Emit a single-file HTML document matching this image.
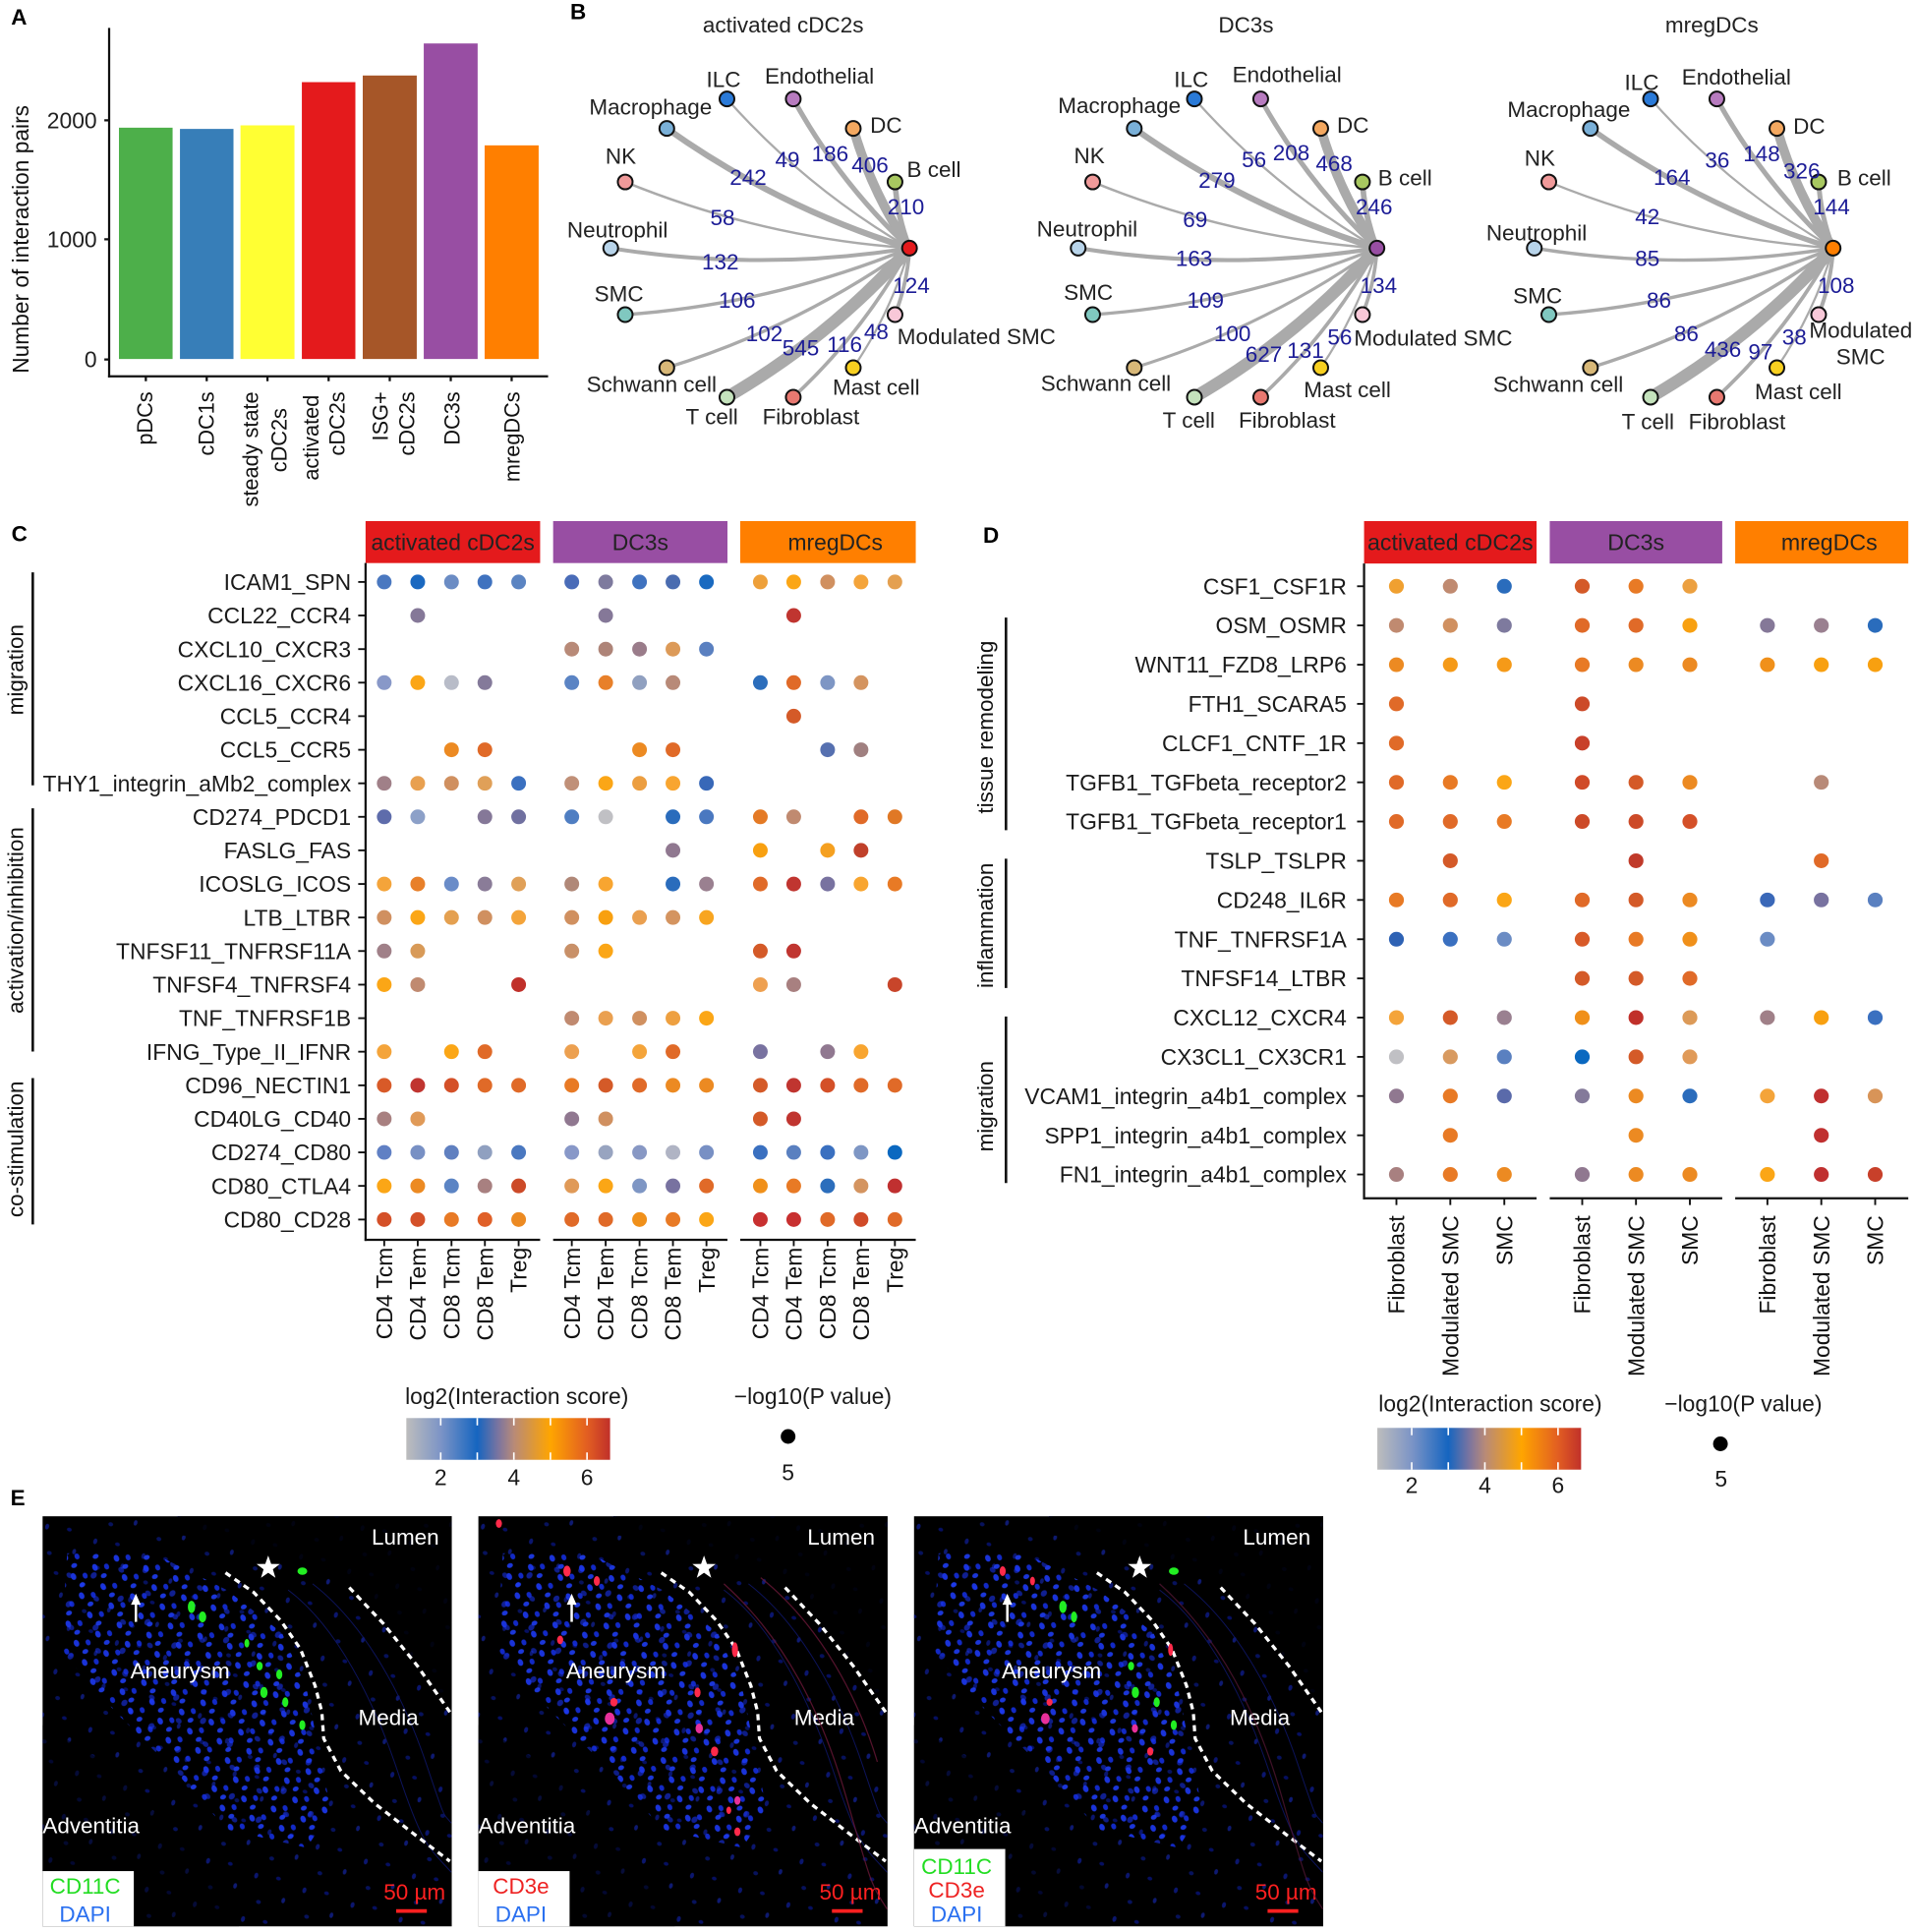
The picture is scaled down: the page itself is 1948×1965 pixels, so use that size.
<!DOCTYPE html>
<html><head><meta charset="utf-8">
<style>
html,body{margin:0;padding:0;background:#fff;}
svg{display:block;}
text{font-family:"Liberation Sans",Arial,Helvetica,sans-serif;}
</style></head><body>
<svg xmlns="http://www.w3.org/2000/svg" width="1948" height="1965" viewBox="0 0 1560 1573.6" preserveAspectRatio="none">
<defs>
<linearGradient id="cb" x1="0" x2="1" y1="0" y2="0">
 <stop offset="0" stop-color="#bdbdbd"/>
 <stop offset="0.169" stop-color="#7c94c6"/>
 <stop offset="0.348" stop-color="#1565c0"/>
 <stop offset="0.45" stop-color="#7a74a0"/>
 <stop offset="0.528" stop-color="#b88a78"/>
 <stop offset="0.707" stop-color="#ffa500"/>
 <stop offset="0.887" stop-color="#e25e22"/>
 <stop offset="1" stop-color="#c0302a"/>
</linearGradient>
<pattern id="nA" width="41" height="37" patternUnits="userSpaceOnUse" patternTransform="rotate(17)">
 <ellipse cx="6" cy="7" rx="1.6" ry="2.4" fill="#1428c8"/>
 <ellipse cx="24" cy="4" rx="2" ry="1.5" fill="#0a1cb0"/>
 <ellipse cx="33" cy="20" rx="1.5" ry="2.3" fill="#1a30d0"/>
 <ellipse cx="14" cy="27" rx="2" ry="1.6" fill="#0c20a8"/>
</pattern>
<pattern id="nB" width="19" height="17" patternUnits="userSpaceOnUse" patternTransform="rotate(-23)">
 <ellipse cx="4" cy="4" rx="2.2" ry="2.9" fill="#1e3cff"/>
 <ellipse cx="13" cy="7" rx="2" ry="2.5" fill="#1530e8"/>
 <ellipse cx="8" cy="13" rx="2.5" ry="1.9" fill="#2040ff"/>
</pattern>
<pattern id="nC" width="29" height="31" patternUnits="userSpaceOnUse" patternTransform="rotate(41)">
 <ellipse cx="5" cy="9" rx="2.3" ry="2.8" fill="#1a34f0"/>
 <ellipse cx="19" cy="22" rx="2.6" ry="2" fill="#1830e0"/>
</pattern>
<clipPath id="anClip"><polygon points="20,30 90,30 150,60 195,95 215,140 225,190 235,240 215,270 150,255 110,210 60,160 15,110"/></clipPath>
<g id="micro">
 <rect x="0" y="0" width="333.3" height="334" fill="#000"/>
 <rect x="0" y="0" width="333.3" height="334" fill="url(#nA)" opacity="0.55"/>
 <rect x="0" y="0" width="333.3" height="334" fill="url(#nB)" clip-path="url(#anClip)" opacity="0.85"/>
 <rect x="0" y="0" width="333.3" height="334" fill="url(#nC)" clip-path="url(#anClip)" opacity="0.6"/>
 <polygon points="110,0 333.3,0 333.3,160 305,122 278,87 250,58 200,35 150,22 110,15" fill="#000" opacity="0.85"/>
 <polygon points="0,170 50,200 100,250 140,300 160,334 0,334" fill="#000" opacity="0.5"/>
 <g fill="none" stroke="#101870" stroke-width="0.8" opacity="0.8">
  <path d="M200,60 C240,90 270,150 290,210 S315,270 333,290"/>
  <path d="M220,55 C265,90 295,150 312,200 S325,240 333,250"/>
 </g>
 <polyline points="149,46 172,62 194,85 210,108 222,138 227.5,159.5 229,181 243,207.5 270.6,234 305.4,261 331.8,281" fill="none" stroke="#fff" stroke-width="2.6" stroke-dasharray="5 4"/>
 <polyline points="249.8,58 277.6,87.4 305.4,122 331.8,159.5" fill="none" stroke="#fff" stroke-width="2.6" stroke-dasharray="5 4"/>
 <polygon points="183.8,32 186.2,38.8 193.3,38.9 187.6,43.2 189.7,50.1 183.8,46 177.9,50.1 180,43.2 174.3,38.9 181.4,38.8" fill="#fff"/>
 <line x1="76" y1="86" x2="76" y2="70" stroke="#fff" stroke-width="2"/>
 <polygon points="72,72 76,63 80,72" fill="#fff"/>
 <text x="323" y="23" text-anchor="end" font-size="18" fill="#fff">Lumen</text>
 <text x="112" y="132" text-anchor="middle" font-size="18" fill="#fff">Aneurysm</text>
 <text x="281.7" y="170" text-anchor="middle" font-size="18" fill="#fff">Media</text>
 <text x="0" y="258" font-size="18" fill="#fff">Adventitia</text>
 <text x="303" y="312" text-anchor="middle" font-size="18" fill="#ff2020">50 µm</text>
 <rect x="288" y="320" width="25" height="3" fill="#ff2020"/>
</g>
</defs>

<!-- ============ PANEL A ============ -->
<text x="9" y="20" font-size="18" font-weight="bold">A</text>
<text transform="translate(23.4,194.9) rotate(-90)" text-anchor="middle" font-size="18.2" fill="#111">Number of interaction pairs</text>
<g font-size="18.3" fill="#222" text-anchor="end">
 <text x="79" y="104.5">2000</text>
 <text x="79" y="201.4">1000</text>
 <text x="79" y="299.3">0</text>
</g>
<g stroke="#fff" stroke-width="0.8">
 <rect x="96.5" y="103.6" width="44.5" height="189.2" fill="#4daf4a"/>
 <rect x="146.2" y="104.6" width="44.4" height="188.2" fill="#377eb8"/>
 <rect x="195.5" y="101.7" width="44.8" height="191.1" fill="#ffff33"/>
 <rect x="245.5" y="66.5" width="44.4" height="226.3" fill="#e41a1c"/>
 <rect x="295.1" y="61.1" width="44.8" height="231.7" fill="#a65628"/>
 <rect x="344.8" y="35" width="44.7" height="257.8" fill="#984ea3"/>
 <rect x="394.4" y="118" width="44.8" height="174.8" fill="#ff7f00"/>
</g>
<g stroke="#111" stroke-width="1.8" fill="none">
 <line x1="88.9" y1="22.7" x2="88.9" y2="307.4"/>
 <line x1="88" y1="306.5" x2="446.5" y2="306.5"/>
 <line x1="85" y1="98" x2="88.9" y2="98"/>
 <line x1="85" y1="194.9" x2="88.9" y2="194.9"/>
 <line x1="85" y1="292.8" x2="88.9" y2="292.8"/>
 <line x1="118.8" y1="306.5" x2="118.8" y2="310.5"/>
 <line x1="168.4" y1="306.5" x2="168.4" y2="310.5"/>
 <line x1="217.9" y1="306.5" x2="217.9" y2="310.5"/>
 <line x1="267.7" y1="306.5" x2="267.7" y2="310.5"/>
 <line x1="317.5" y1="306.5" x2="317.5" y2="310.5"/>
 <line x1="367.2" y1="306.5" x2="367.2" y2="310.5"/>
 <line x1="416.8" y1="306.5" x2="416.8" y2="310.5"/>
</g>
<g font-size="17.4" fill="#111" text-anchor="end">
 <text transform="translate(124,319) rotate(-90)">pDCs</text>
 <text transform="translate(174,319) rotate(-90)">cDC1s</text>
 <text transform="translate(210.3,319) rotate(-90)">steady state</text>
 <text transform="translate(233.3,332.4) rotate(-90)">cDC2s</text>
 <text transform="translate(259.3,321.7) rotate(-90)">activated</text>
 <text transform="translate(280.8,319) rotate(-90)">cDC2s</text>
 <text transform="translate(316,319) rotate(-90)">ISG+</text>
 <text transform="translate(337.5,319) rotate(-90)">cDC2s</text>
 <text transform="translate(374.3,319) rotate(-90)">DC3s</text>
 <text transform="translate(423.3,319) rotate(-90)">mregDCs</text>
</g>

<!-- ============ PANEL B ============ -->
<text x="464.5" y="15.5" font-size="18" font-weight="bold">B</text>

<!-- network activated -->
<g transform="translate(2,0)">
<text x="636" y="26.5" font-size="18" fill="#222" text-anchor="middle">activated cDC2s</text>
<g transform="translate(738.9,202.1)" fill="none" stroke="#aaaaaa">
 <path d="M0,0 Q-10.2,-26 -11.8,-53.9" stroke-width="4.47"/>
 <path d="M0,0 Q-30.7,-45.1 -45.8,-97.5" stroke-width="7.7"/>
 <path d="M0,0 Q-57.1,-53.2 -94.7,-121.5" stroke-width="4.07"/>
 <path d="M0,0 Q-84.1,-48.9 -148.7,-121.5" stroke-width="1.81"/>
 <path d="M0,0 Q-106.7,-32.9 -197.7,-97.5" stroke-width="5"/>
 <path d="M0,0 Q-120.1,-8.4 -231.6,-53.9" stroke-width="1.96"/>
 <path d="M0,0 Q-121.7,19.5 -243.4,0" stroke-width="3.18"/>
 <path d="M0,0 Q-111.5,45.6 -231.6,54.2" stroke-width="2.75"/>
 <path d="M0,0 Q-91.1,64.5 -197.7,97.4" stroke-width="2.68"/>
 <path d="M0,0 Q-64.6,72.6 -148.7,121.4" stroke-width="10"/>
 <path d="M0,0 Q-37.6,68.3 -94.7,121.4" stroke-width="2.92"/>
 <path d="M0,0 Q-15.1,52.4 -45.8,97.4" stroke-width="1.79"/>
 <path d="M0,0 Q-1.6,28 -11.8,54.2" stroke-width="3.05"/>
</g>
<g transform="translate(738.9,202.1)" stroke="#111" stroke-width="1.6">
 <circle cx="-11.8" cy="-53.9" r="6" fill="#a8c860"/>
 <circle cx="-45.8" cy="-97.5" r="6" fill="#f4a860"/>
 <circle cx="-94.7" cy="-121.5" r="6" fill="#b77bbf"/>
 <circle cx="-148.7" cy="-121.5" r="6" fill="#2a7ad8"/>
 <circle cx="-197.7" cy="-97.5" r="6" fill="#7ab0d8"/>
 <circle cx="-231.6" cy="-53.9" r="6" fill="#f09a9a"/>
 <circle cx="-243.4" cy="0" r="6" fill="#b8d4ea"/>
 <circle cx="-231.6" cy="54.2" r="6" fill="#80c8c0"/>
 <circle cx="-197.7" cy="97.4" r="6" fill="#d8b878"/>
 <circle cx="-148.7" cy="121.4" r="6" fill="#c4e2bc"/>
 <circle cx="-94.7" cy="121.4" r="6" fill="#e87870"/>
 <circle cx="-45.8" cy="97.4" r="6" fill="#f8d020"/>
 <circle cx="-11.8" cy="54.2" r="6" fill="#f8c8d8"/>
 <circle cx="0" cy="0" r="6" fill="#e41a1c"/>
</g>
<g font-size="18" fill="#222">
 <text x="573.4" y="70.7">ILC</text>
 <text x="621" y="68">Endothelial</text>
 <text x="478" y="93.4">Macrophage</text>
 <text x="706.8" y="108">DC</text>
 <text x="491.2" y="133.5">NK</text>
 <text x="736.8" y="144.2">B cell</text>
 <text x="460" y="193.5">Neutrophil</text>
 <text x="482.2" y="245.6">SMC</text>
 <text x="729" y="280.3">Modulated SMC</text>
 <text x="475.8" y="319">Schwann cell</text>
 <text x="676.3" y="321.7">Mast cell</text>
 <text x="556.6" y="345.7">T cell</text>
 <text x="619.1" y="345.7">Fibroblast</text>
</g>
<g font-size="18" fill="#1c1c96" text-anchor="middle">
 <text x="607.4" y="150.7">242</text>
 <text x="639.5" y="136">49</text>
 <text x="674.2" y="131.2">186</text>
 <text x="706.7" y="140.5">406</text>
 <text x="736" y="174.7">210</text>
 <text x="586.6" y="183.2">58</text>
 <text x="584.8" y="219.3">132</text>
 <text x="740.4" y="238.7">124</text>
 <text x="598.4" y="250.8">106</text>
 <text x="620.6" y="278">102</text>
 <text x="650.3" y="289.5">545</text>
 <text x="686" y="286.8">116</text>
 <text x="711.8" y="276.1">48</text>
</g>
</g>

<!-- network DC3s -->
<g transform="translate(3.5,0)">
<text x="1011.5" y="26.5" font-size="18" fill="#222" text-anchor="middle">DC3s</text>
<g transform="translate(1118.2,202.1)" fill="none" stroke="#aaaaaa">
 <path d="M0,0 Q-10.2,-26 -11.8,-53.9" stroke-width="4.53"/>
 <path d="M0,0 Q-30.7,-45.1 -45.8,-97.5" stroke-width="7.72"/>
 <path d="M0,0 Q-57.1,-53.2 -94.7,-121.5" stroke-width="3.99"/>
 <path d="M0,0 Q-84.1,-48.9 -148.7,-121.5" stroke-width="1.8"/>
 <path d="M0,0 Q-106.7,-32.9 -197.7,-97.5" stroke-width="5"/>
 <path d="M0,0 Q-120.1,-8.4 -231.6,-53.9" stroke-width="1.99"/>
 <path d="M0,0 Q-121.7,19.5 -243.4,0" stroke-width="3.34"/>
 <path d="M0,0 Q-111.5,45.6 -231.6,54.2" stroke-width="2.56"/>
 <path d="M0,0 Q-91.1,64.5 -197.7,97.4" stroke-width="2.44"/>
 <path d="M0,0 Q-64.6,72.6 -148.7,121.4" stroke-width="10"/>
 <path d="M0,0 Q-37.6,68.3 -94.7,121.4" stroke-width="2.88"/>
 <path d="M0,0 Q-15.1,52.4 -45.8,97.4" stroke-width="1.8"/>
 <path d="M0,0 Q-1.6,28 -11.8,54.2" stroke-width="2.92"/>
</g>
<g transform="translate(1118.2,202.1)" stroke="#111" stroke-width="1.6">
 <circle cx="-11.8" cy="-53.9" r="6" fill="#a8c860"/>
 <circle cx="-45.8" cy="-97.5" r="6" fill="#f4a860"/>
 <circle cx="-94.7" cy="-121.5" r="6" fill="#b77bbf"/>
 <circle cx="-148.7" cy="-121.5" r="6" fill="#2a7ad8"/>
 <circle cx="-197.7" cy="-97.5" r="6" fill="#7ab0d8"/>
 <circle cx="-231.6" cy="-53.9" r="6" fill="#f09a9a"/>
 <circle cx="-243.4" cy="0" r="6" fill="#b8d4ea"/>
 <circle cx="-231.6" cy="54.2" r="6" fill="#80c8c0"/>
 <circle cx="-197.7" cy="97.4" r="6" fill="#d8b878"/>
 <circle cx="-148.7" cy="121.4" r="6" fill="#c4e2bc"/>
 <circle cx="-94.7" cy="121.4" r="6" fill="#e87870"/>
 <circle cx="-45.8" cy="97.4" r="6" fill="#f8d020"/>
 <circle cx="-11.8" cy="54.2" r="6" fill="#f8c8d8"/>
 <circle cx="0" cy="0" r="6" fill="#984ea3"/>
</g>
<g font-size="18" fill="#222">
 <text x="952.9" y="70.7">ILC</text>
 <text x="1000.4" y="66.7">Endothelial</text>
 <text x="858.4" y="92.1">Macrophage</text>
 <text x="1085.6" y="108.1">DC</text>
 <text x="871.4" y="132.9">NK</text>
 <text x="1119.1" y="150.8">B cell</text>
 <text x="841.1" y="192.7">Neutrophil</text>
 <text x="863.1" y="244.3">SMC</text>
 <text x="1099.5" y="281.6">Modulated SMC</text>
 <text x="844.4" y="318.2">Schwann cell</text>
 <text x="1058.6" y="323.5">Mast cell</text>
 <text x="943.6" y="348.4">T cell</text>
 <text x="1005.5" y="348.4">Fibroblast</text>
</g>
<g font-size="18" fill="#1c1c96" text-anchor="middle">
 <text x="987.8" y="152.8">279</text>
 <text x="1018.1" y="136">56</text>
 <text x="1048.4" y="130.5">208</text>
 <text x="1083.3" y="139.5">468</text>
 <text x="1115.9" y="174.7">246</text>
 <text x="970.1" y="184.8">69</text>
 <text x="969.2" y="216.5">163</text>
 <text x="1119.6" y="238.7">134</text>
 <text x="978.5" y="250.8">109</text>
 <text x="1000.4" y="278">100</text>
 <text x="1026" y="294.8">627</text>
 <text x="1060" y="291.5">131</text>
 <text x="1087.9" y="280.7">56</text>
</g>
</g>

<!-- network mregDCs -->
<g transform="translate(5,0)">
<text x="1389.5" y="26.5" font-size="18" fill="#222" text-anchor="middle">mregDCs</text>
<g transform="translate(1488.3,202.1)" fill="none" stroke="#aaaaaa">
 <path d="M0,0 Q-10.2,-26 -11.8,-53.9" stroke-width="3.97"/>
 <path d="M0,0 Q-30.7,-45.1 -45.8,-97.5" stroke-width="7.73"/>
 <path d="M0,0 Q-57.1,-53.2 -94.7,-121.5" stroke-width="4.06"/>
 <path d="M0,0 Q-84.1,-48.9 -148.7,-121.5" stroke-width="1.74"/>
 <path d="M0,0 Q-106.7,-32.9 -197.7,-97.5" stroke-width="4.39"/>
 <path d="M0,0 Q-120.1,-8.4 -231.6,-53.9" stroke-width="1.87"/>
 <path d="M0,0 Q-121.7,19.5 -243.4,0" stroke-width="2.75"/>
 <path d="M0,0 Q-111.5,45.6 -231.6,54.2" stroke-width="2.78"/>
 <path d="M0,0 Q-91.1,64.5 -197.7,97.4" stroke-width="2.78"/>
 <path d="M0,0 Q-64.6,72.6 -148.7,121.4" stroke-width="10"/>
 <path d="M0,0 Q-37.6,68.3 -94.7,121.4" stroke-width="3"/>
 <path d="M0,0 Q-15.1,52.4 -45.8,97.4" stroke-width="1.78"/>
 <path d="M0,0 Q-1.6,28 -11.8,54.2" stroke-width="3.23"/>
</g>
<g transform="translate(1488.3,202.1)" stroke="#111" stroke-width="1.6">
 <circle cx="-11.8" cy="-53.9" r="6" fill="#a8c860"/>
 <circle cx="-45.8" cy="-97.5" r="6" fill="#f4a860"/>
 <circle cx="-94.7" cy="-121.5" r="6" fill="#b77bbf"/>
 <circle cx="-148.7" cy="-121.5" r="6" fill="#2a7ad8"/>
 <circle cx="-197.7" cy="-97.5" r="6" fill="#7ab0d8"/>
 <circle cx="-231.6" cy="-53.9" r="6" fill="#f09a9a"/>
 <circle cx="-243.4" cy="0" r="6" fill="#b8d4ea"/>
 <circle cx="-231.6" cy="54.2" r="6" fill="#80c8c0"/>
 <circle cx="-197.7" cy="97.4" r="6" fill="#d8b878"/>
 <circle cx="-148.7" cy="121.4" r="6" fill="#c4e2bc"/>
 <circle cx="-94.7" cy="121.4" r="6" fill="#e87870"/>
 <circle cx="-45.8" cy="97.4" r="6" fill="#f8d020"/>
 <circle cx="-11.8" cy="54.2" r="6" fill="#f8c8d8"/>
 <circle cx="0" cy="0" r="6" fill="#ff7f00"/>
</g>
<g font-size="18" fill="#222">
 <text x="1318.4" y="73.4">ILC</text>
 <text x="1365" y="68.9">Endothelial</text>
 <text x="1223" y="95.3">Macrophage</text>
 <text x="1455.8" y="108.9">DC</text>
 <text x="1236.9" y="134.8">NK</text>
 <text x="1491.6" y="150.8">B cell</text>
 <text x="1205.7" y="195.7">Neutrophil</text>
 <text x="1227.6" y="247">SMC</text>
 <text x="1468.8" y="275">Modulated</text>
 <text x="1490.7" y="296.8">SMC</text>
 <text x="1211.3" y="319">Schwann cell</text>
 <text x="1424.5" y="325">Mast cell</text>
 <text x="1316.1" y="349.7">T cell</text>
 <text x="1370.5" y="349.7">Fibroblast</text>
</g>
<g font-size="18" fill="#1c1c96" text-anchor="middle">
 <text x="1357" y="150.7">164</text>
 <text x="1393.9" y="136.5">36</text>
 <text x="1430.1" y="131.5">148</text>
 <text x="1462.7" y="145.3">326</text>
 <text x="1486.9" y="174.7">144</text>
 <text x="1337" y="182.7">42</text>
 <text x="1337" y="216.5">85</text>
 <text x="1490.7" y="238.7">108</text>
 <text x="1346.4" y="250.8">86</text>
 <text x="1368.7" y="278">86</text>
 <text x="1398.5" y="290.8">436</text>
 <text x="1429.2" y="292.7">97</text>
 <text x="1456.7" y="280.7">38</text>
</g>
</g>

<!-- ============ PANEL C ============ -->
<text x="9.3" y="441" font-size="18" font-weight="bold">C</text>
<rect x="297.8" y="424.4" width="142.2" height="34.2" fill="#e41a1c"/>
<rect x="450.6" y="424.4" width="142" height="34.2" fill="#984ea3"/>
<rect x="603" y="424.4" width="143" height="34.2" fill="#ff7f00"/>
<g font-size="18.3" fill="#222" text-anchor="middle">
 <text x="368.9" y="448">activated cDC2s</text>
 <text x="521.6" y="448">DC3s</text>
 <text x="680.5" y="448">mregDCs</text>
</g>
<g stroke="#111" stroke-width="1.8" fill="none">
 <line x1="297.8" y1="458.6" x2="297.8" y2="1010.7"/>
 <line x1="297" y1="1009.8" x2="440" y2="1009.8"/>
 <line x1="450.6" y1="1009.8" x2="592.6" y2="1009.8"/>
 <line x1="603" y1="1009.8" x2="746" y2="1009.8"/>
</g>
<g stroke="#111" stroke-width="1.5">
 <line x1="291.8" y1="474" x2="297.8" y2="474"/><line x1="291.8" y1="501.3" x2="297.8" y2="501.3"/>
 <line x1="291.8" y1="528.7" x2="297.8" y2="528.7"/><line x1="291.8" y1="556" x2="297.8" y2="556"/>
 <line x1="291.8" y1="583.3" x2="297.8" y2="583.3"/><line x1="291.8" y1="610.7" x2="297.8" y2="610.7"/>
 <line x1="291.8" y1="638" x2="297.8" y2="638"/><line x1="291.8" y1="665.3" x2="297.8" y2="665.3"/>
 <line x1="291.8" y1="692.6" x2="297.8" y2="692.6"/><line x1="291.8" y1="720" x2="297.8" y2="720"/>
 <line x1="291.8" y1="747.3" x2="297.8" y2="747.3"/><line x1="291.8" y1="774.6" x2="297.8" y2="774.6"/>
 <line x1="291.8" y1="802" x2="297.8" y2="802"/><line x1="291.8" y1="829.3" x2="297.8" y2="829.3"/>
 <line x1="291.8" y1="856.6" x2="297.8" y2="856.6"/><line x1="291.8" y1="884" x2="297.8" y2="884"/>
 <line x1="291.8" y1="911.3" x2="297.8" y2="911.3"/><line x1="291.8" y1="938.6" x2="297.8" y2="938.6"/>
 <line x1="291.8" y1="965.9" x2="297.8" y2="965.9"/><line x1="291.8" y1="993.3" x2="297.8" y2="993.3"/>
 <line x1="313" y1="1009.8" x2="313" y2="1015"/><line x1="340.3" y1="1009.8" x2="340.3" y2="1015"/>
 <line x1="367.8" y1="1009.8" x2="367.8" y2="1015"/><line x1="395" y1="1009.8" x2="395" y2="1015"/>
 <line x1="422.5" y1="1009.8" x2="422.5" y2="1015"/>
 <line x1="465.8" y1="1009.8" x2="465.8" y2="1015"/><line x1="493.4" y1="1009.8" x2="493.4" y2="1015"/>
 <line x1="521" y1="1009.8" x2="521" y2="1015"/><line x1="548.2" y1="1009.8" x2="548.2" y2="1015"/>
 <line x1="575.5" y1="1009.8" x2="575.5" y2="1015"/>
 <line x1="619.4" y1="1009.8" x2="619.4" y2="1015"/><line x1="646.6" y1="1009.8" x2="646.6" y2="1015"/>
 <line x1="674.2" y1="1009.8" x2="674.2" y2="1015"/><line x1="701.4" y1="1009.8" x2="701.4" y2="1015"/>
 <line x1="729" y1="1009.8" x2="729" y2="1015"/>
</g>
<g font-size="18.3" fill="#1a1a1a" text-anchor="end">
 <text x="286" y="480.5">ICAM1_SPN</text>
 <text x="286" y="507.8">CCL22_CCR4</text>
 <text x="286" y="535.2">CXCL10_CXCR3</text>
 <text x="286" y="562.5">CXCL16_CXCR6</text>
 <text x="286" y="589.8">CCL5_CCR4</text>
 <text x="286" y="617.2">CCL5_CCR5</text>
 <text x="286" y="644.5">THY1_integrin_aMb2_complex</text>
 <text x="286" y="671.8">CD274_PDCD1</text>
 <text x="286" y="699.1">FASLG_FAS</text>
 <text x="286" y="726.5">ICOSLG_ICOS</text>
 <text x="286" y="753.8">LTB_LTBR</text>
 <text x="286" y="781.1">TNFSF11_TNFRSF11A</text>
 <text x="286" y="808.5">TNFSF4_TNFRSF4</text>
 <text x="286" y="835.8">TNF_TNFRSF1B</text>
 <text x="286" y="863.1">IFNG_Type_II_IFNR</text>
 <text x="286" y="890.5">CD96_NECTIN1</text>
 <text x="286" y="917.8">CD40LG_CD40</text>
 <text x="286" y="945.1">CD274_CD80</text>
 <text x="286" y="972.4">CD80_CTLA4</text>
 <text x="286" y="999.8">CD80_CD28</text>
</g>
<g stroke="#111" stroke-width="2.1">
 <line x1="26.7" y1="466.2" x2="26.7" y2="639.7"/>
 <line x1="26.7" y1="658.4" x2="26.7" y2="856.5"/>
 <line x1="26.7" y1="878.1" x2="26.7" y2="997.3"/>
</g>
<g font-size="18" fill="#111" text-anchor="middle">
 <text transform="translate(19,545.5) rotate(-90)">migration</text>
 <text transform="translate(19,749.6) rotate(-90)">activation/inhibition</text>
 <text transform="translate(19,936) rotate(-90)">co-stimulation</text>
</g>
<g font-size="18.3" fill="#111" text-anchor="end">
 <text transform="translate(319.5,1016) rotate(-90)">CD4 Tcm</text>
 <text transform="translate(346.8,1016) rotate(-90)">CD4 Tem</text>
 <text transform="translate(374.3,1016) rotate(-90)">CD8 Tcm</text>
 <text transform="translate(401.5,1016) rotate(-90)">CD8 Tem</text>
 <text transform="translate(429,1016) rotate(-90)">Treg</text>
 <text transform="translate(472.3,1016) rotate(-90)">CD4 Tcm</text>
 <text transform="translate(499.9,1016) rotate(-90)">CD4 Tem</text>
 <text transform="translate(527.5,1016) rotate(-90)">CD8 Tcm</text>
 <text transform="translate(554.7,1016) rotate(-90)">CD8 Tem</text>
 <text transform="translate(582,1016) rotate(-90)">Treg</text>
 <text transform="translate(625.9,1016) rotate(-90)">CD4 Tcm</text>
 <text transform="translate(653.1,1016) rotate(-90)">CD4 Tem</text>
 <text transform="translate(680.7,1016) rotate(-90)">CD8 Tcm</text>
 <text transform="translate(707.9,1016) rotate(-90)">CD8 Tem</text>
 <text transform="translate(735.5,1016) rotate(-90)">Treg</text>
</g>
<!-- C dots -->
<g>
<circle cx="313" cy="474" r="6" fill="#4a78c0"/><circle cx="340.3" cy="474" r="6" fill="#1a68c0"/><circle cx="367.8" cy="474" r="6" fill="#6b8cc4"/><circle cx="395" cy="474" r="6" fill="#3f72bf"/><circle cx="422.5" cy="474" r="6" fill="#5b84c2"/>
<circle cx="465.8" cy="474" r="6" fill="#4a6cb8"/><circle cx="493.4" cy="474" r="6" fill="#7e7a9e"/><circle cx="521" cy="474" r="6" fill="#3f72bf"/><circle cx="548.2" cy="474" r="6" fill="#4a6cb0"/><circle cx="575.5" cy="474" r="6" fill="#1a6ac0"/>
<circle cx="619.4" cy="474" r="6" fill="#eea03a"/><circle cx="646.6" cy="474" r="6" fill="#fba616"/><circle cx="674.2" cy="474" r="6" fill="#d09060"/><circle cx="701.4" cy="474" r="6" fill="#f4a43a"/><circle cx="729" cy="474" r="6" fill="#e4a050"/>
<circle cx="340.3" cy="501.3" r="6" fill="#857898"/><circle cx="493.4" cy="501.3" r="6" fill="#857898"/><circle cx="646.6" cy="501.3" r="6" fill="#c03530"/>
<circle cx="465.8" cy="528.7" r="6" fill="#b88a78"/><circle cx="493.4" cy="528.7" r="6" fill="#ae8478"/><circle cx="521" cy="528.7" r="6" fill="#9a7c8a"/><circle cx="548.2" cy="528.7" r="6" fill="#dc9a58"/><circle cx="575.5" cy="528.7" r="6" fill="#5a80c0"/>
<circle cx="313" cy="556" r="6" fill="#8898c8"/><circle cx="340.3" cy="556" r="6" fill="#fba616"/><circle cx="367.8" cy="556" r="6" fill="#b8bcc8"/><circle cx="395" cy="556" r="6" fill="#847a9a"/>
<circle cx="465.8" cy="556" r="6" fill="#5b84c4"/><circle cx="493.4" cy="556" r="6" fill="#e8802a"/><circle cx="521" cy="556" r="6" fill="#90a0c0"/><circle cx="548.2" cy="556" r="6" fill="#b88a78"/>
<circle cx="619.4" cy="556" r="6" fill="#2c6ebc"/><circle cx="646.6" cy="556" r="6" fill="#e06a28"/><circle cx="674.2" cy="556" r="6" fill="#7e96c4"/><circle cx="701.4" cy="556" r="6" fill="#d49460"/>
<circle cx="646.6" cy="583.3" r="6" fill="#d45a28"/>
<circle cx="367.8" cy="610.7" r="6" fill="#ec8a22"/><circle cx="395" cy="610.7" r="6" fill="#e06a28"/>
<circle cx="521" cy="610.7" r="6" fill="#ec8a22"/><circle cx="548.2" cy="610.7" r="6" fill="#e06a28"/>
<circle cx="674.2" cy="610.7" r="6" fill="#5670b0"/><circle cx="701.4" cy="610.7" r="6" fill="#a08080"/>
<circle cx="313" cy="638" r="6" fill="#a08088"/><circle cx="340.3" cy="638" r="6" fill="#e8a050"/><circle cx="367.8" cy="638" r="6" fill="#d09060"/><circle cx="395" cy="638" r="6" fill="#e0a058"/><circle cx="422.5" cy="638" r="6" fill="#3a70c0"/>
<circle cx="465.8" cy="638" r="6" fill="#c09078"/><circle cx="493.4" cy="638" r="6" fill="#fba616"/><circle cx="521" cy="638" r="6" fill="#ec9e40"/><circle cx="548.2" cy="638" r="6" fill="#f8a530"/><circle cx="575.5" cy="638" r="6" fill="#3868b8"/>
<circle cx="313" cy="665.3" r="6" fill="#5e6cab"/><circle cx="340.3" cy="665.3" r="6" fill="#8ca0c8"/><circle cx="395" cy="665.3" r="6" fill="#857898"/><circle cx="422.5" cy="665.3" r="6" fill="#7070a0"/>
<circle cx="465.8" cy="665.3" r="6" fill="#4f7ec2"/><circle cx="493.4" cy="665.3" r="6" fill="#c0c0c4"/><circle cx="548.2" cy="665.3" r="6" fill="#2a6cbc"/><circle cx="575.5" cy="665.3" r="6" fill="#4a78c0"/>
<circle cx="619.4" cy="665.3" r="6" fill="#e47a25"/><circle cx="646.6" cy="665.3" r="6" fill="#c08a70"/><circle cx="701.4" cy="665.3" r="6" fill="#e06a28"/><circle cx="729" cy="665.3" r="6" fill="#e07825"/>
<circle cx="548.2" cy="692.6" r="6" fill="#907890"/>
<circle cx="619.4" cy="692.6" r="6" fill="#f8a010"/><circle cx="674.2" cy="692.6" r="6" fill="#f5a020"/><circle cx="701.4" cy="692.6" r="6" fill="#c0402a"/>
<circle cx="313" cy="720" r="6" fill="#f4a43a"/><circle cx="340.3" cy="720" r="6" fill="#e8802a"/><circle cx="367.8" cy="720" r="6" fill="#6a8cc8"/><circle cx="395" cy="720" r="6" fill="#8a7c98"/><circle cx="422.5" cy="720" r="6" fill="#e0a058"/>
<circle cx="465.8" cy="720" r="6" fill="#b08878"/><circle cx="493.4" cy="720" r="6" fill="#f8a530"/><circle cx="548.2" cy="720" r="6" fill="#2a6cbc"/><circle cx="575.5" cy="720" r="6" fill="#9a8090"/>
<circle cx="619.4" cy="720" r="6" fill="#e06a28"/><circle cx="646.6" cy="720" r="6" fill="#c03530"/><circle cx="674.2" cy="720" r="6" fill="#7872a0"/><circle cx="701.4" cy="720" r="6" fill="#f8a530"/><circle cx="729" cy="720" r="6" fill="#e87a25"/>
<circle cx="313" cy="747.3" r="6" fill="#d09060"/><circle cx="340.3" cy="747.3" r="6" fill="#fba616"/><circle cx="367.8" cy="747.3" r="6" fill="#e4a050"/><circle cx="395" cy="747.3" r="6" fill="#d09060"/><circle cx="422.5" cy="747.3" r="6" fill="#f4a43a"/>
<circle cx="465.8" cy="747.3" r="6" fill="#d09060"/><circle cx="493.4" cy="747.3" r="6" fill="#f8a010"/><circle cx="521" cy="747.3" r="6" fill="#eaa050"/><circle cx="548.2" cy="747.3" r="6" fill="#d49460"/><circle cx="575.5" cy="747.3" r="6" fill="#f8a520"/>
<circle cx="313" cy="774.6" r="6" fill="#a08088"/><circle cx="340.3" cy="774.6" r="6" fill="#d89a58"/>
<circle cx="465.8" cy="774.6" r="6" fill="#c89068"/><circle cx="493.4" cy="774.6" r="6" fill="#fba616"/>
<circle cx="619.4" cy="774.6" r="6" fill="#d45a28"/><circle cx="646.6" cy="774.6" r="6" fill="#c03530"/>
<circle cx="313" cy="802" r="6" fill="#fba616"/><circle cx="340.3" cy="802" r="6" fill="#c08a70"/><circle cx="422.5" cy="802" r="6" fill="#c0302a"/>
<circle cx="619.4" cy="802" r="6" fill="#eea050"/><circle cx="646.6" cy="802" r="6" fill="#a88080"/><circle cx="729" cy="802" r="6" fill="#c8452a"/>
<circle cx="465.8" cy="829.3" r="6" fill="#c08a70"/><circle cx="493.4" cy="829.3" r="6" fill="#eaa050"/><circle cx="521" cy="829.3" r="6" fill="#d09060"/><circle cx="548.2" cy="829.3" r="6" fill="#eea040"/><circle cx="575.5" cy="829.3" r="6" fill="#fba616"/>
<circle cx="313" cy="856.6" r="6" fill="#f4a43a"/><circle cx="367.8" cy="856.6" r="6" fill="#fba616"/><circle cx="395" cy="856.6" r="6" fill="#e06a28"/>
<circle cx="465.8" cy="856.6" r="6" fill="#eca050"/><circle cx="521" cy="856.6" r="6" fill="#f4a43a"/><circle cx="548.2" cy="856.6" r="6" fill="#e06a28"/>
<circle cx="619.4" cy="856.6" r="6" fill="#7872a0"/><circle cx="674.2" cy="856.6" r="6" fill="#907890"/><circle cx="701.4" cy="856.6" r="6" fill="#f8a530"/>
<circle cx="313" cy="884" r="6" fill="#d85a28"/><circle cx="340.3" cy="884" r="6" fill="#c03530"/><circle cx="367.8" cy="884" r="6" fill="#d45028"/><circle cx="395" cy="884" r="6" fill="#e06a28"/><circle cx="422.5" cy="884" r="6" fill="#e06a28"/>
<circle cx="465.8" cy="884" r="6" fill="#e87a25"/><circle cx="493.4" cy="884" r="6" fill="#d45a28"/><circle cx="521" cy="884" r="6" fill="#e06a28"/><circle cx="548.2" cy="884" r="6" fill="#ec8a22"/><circle cx="575.5" cy="884" r="6" fill="#ec8a22"/>
<circle cx="619.4" cy="884" r="6" fill="#d45a28"/><circle cx="646.6" cy="884" r="6" fill="#c03530"/><circle cx="674.2" cy="884" r="6" fill="#d45028"/><circle cx="701.4" cy="884" r="6" fill="#e06a28"/><circle cx="729" cy="884" r="6" fill="#e06a28"/>
<circle cx="313" cy="911.3" r="6" fill="#a88080"/><circle cx="340.3" cy="911.3" r="6" fill="#e09a58"/>
<circle cx="465.8" cy="911.3" r="6" fill="#907890"/><circle cx="493.4" cy="911.3" r="6" fill="#d09060"/>
<circle cx="619.4" cy="911.3" r="6" fill="#d45a28"/><circle cx="646.6" cy="911.3" r="6" fill="#c03530"/>
<circle cx="313" cy="938.6" r="6" fill="#6080c4"/><circle cx="340.3" cy="938.6" r="6" fill="#7890c4"/><circle cx="367.8" cy="938.6" r="6" fill="#6080c0"/><circle cx="395" cy="938.6" r="6" fill="#90a0c0"/><circle cx="422.5" cy="938.6" r="6" fill="#4a78c0"/>
<circle cx="465.8" cy="938.6" r="6" fill="#8898c8"/><circle cx="493.4" cy="938.6" r="6" fill="#98a4c0"/><circle cx="521" cy="938.6" r="6" fill="#8898c4"/><circle cx="548.2" cy="938.6" r="6" fill="#b0b4c4"/><circle cx="575.5" cy="938.6" r="6" fill="#7890c4"/>
<circle cx="619.4" cy="938.6" r="6" fill="#3a70c0"/><circle cx="646.6" cy="938.6" r="6" fill="#5a80c0"/><circle cx="674.2" cy="938.6" r="6" fill="#3a70c0"/><circle cx="701.4" cy="938.6" r="6" fill="#7e96c4"/><circle cx="729" cy="938.6" r="6" fill="#0a68c0"/>
<circle cx="313" cy="965.9" r="6" fill="#fba616"/><circle cx="340.3" cy="965.9" r="6" fill="#ec8a22"/><circle cx="367.8" cy="965.9" r="6" fill="#5b84c4"/><circle cx="395" cy="965.9" r="6" fill="#a88080"/><circle cx="422.5" cy="965.9" r="6" fill="#cc4a28"/>
<circle cx="465.8" cy="965.9" r="6" fill="#e09a58"/><circle cx="493.4" cy="965.9" r="6" fill="#fba616"/><circle cx="521" cy="965.9" r="6" fill="#7e96c4"/><circle cx="548.2" cy="965.9" r="6" fill="#7872a0"/><circle cx="575.5" cy="965.9" r="6" fill="#e06a28"/>
<circle cx="619.4" cy="965.9" r="6" fill="#f0901a"/><circle cx="646.6" cy="965.9" r="6" fill="#e87a25"/><circle cx="674.2" cy="965.9" r="6" fill="#2c6ebc"/><circle cx="701.4" cy="965.9" r="6" fill="#d49460"/><circle cx="729" cy="965.9" r="6" fill="#c03030"/>
<circle cx="313" cy="993.3" r="6" fill="#d45028"/><circle cx="340.3" cy="993.3" r="6" fill="#d45028"/><circle cx="367.8" cy="993.3" r="6" fill="#e87a25"/><circle cx="395" cy="993.3" r="6" fill="#e06028"/><circle cx="422.5" cy="993.3" r="6" fill="#ec8a22"/>
<circle cx="465.8" cy="993.3" r="6" fill="#e06a28"/><circle cx="493.4" cy="993.3" r="6" fill="#e06a28"/><circle cx="521" cy="993.3" r="6" fill="#f0901a"/><circle cx="548.2" cy="993.3" r="6" fill="#e87a25"/><circle cx="575.5" cy="993.3" r="6" fill="#fba616"/>
<circle cx="619.4" cy="993.3" r="6" fill="#c83030"/><circle cx="646.6" cy="993.3" r="6" fill="#c83030"/><circle cx="674.2" cy="993.3" r="6" fill="#e06a28"/><circle cx="701.4" cy="993.3" r="6" fill="#d04a28"/><circle cx="729" cy="993.3" r="6" fill="#e06a28"/>
</g>
<!-- C legend -->
<text x="330" y="1143.5" font-size="18.3" fill="#1a1a1a">log2(Interaction score)</text>
<rect x="331" y="1155" width="166" height="34" fill="url(#cb)"/>
<g stroke="#fff" stroke-width="1.3">
 <line x1="359" y1="1155" x2="359" y2="1161"/><line x1="359" y1="1183" x2="359" y2="1189"/>
 <line x1="388.8" y1="1155" x2="388.8" y2="1161"/><line x1="388.8" y1="1183" x2="388.8" y2="1189"/>
 <line x1="418.6" y1="1155" x2="418.6" y2="1161"/><line x1="418.6" y1="1183" x2="418.6" y2="1189"/>
 <line x1="448.4" y1="1155" x2="448.4" y2="1161"/><line x1="448.4" y1="1183" x2="448.4" y2="1189"/>
 <line x1="478.2" y1="1155" x2="478.2" y2="1161"/><line x1="478.2" y1="1183" x2="478.2" y2="1189"/>
</g>
<g font-size="18.3" fill="#1a1a1a" text-anchor="middle">
 <text x="359" y="1209.5">2</text><text x="418.6" y="1209.5">4</text><text x="478.2" y="1209.5">6</text>
 <text x="642" y="1205.5">5</text>
</g>
<text x="598" y="1143.5" font-size="18.3" fill="#1a1a1a">−log10(P value)</text>
<circle cx="642" cy="1170" r="6" fill="#000"/>

<!-- ============ PANEL D ============ -->
<text x="800.8" y="442" font-size="18" font-weight="bold">D</text>
<g transform="translate(1111.2,0) scale(1.0138,1) translate(-1111.2,0)">
<rect x="1111.2" y="424.4" width="138.6" height="34.6" fill="#e41a1c"/>
<rect x="1260.4" y="424.4" width="138.6" height="34.6" fill="#984ea3"/>
<rect x="1409.4" y="424.4" width="139.1" height="34.6" fill="#ff7f00"/>
<g font-size="18.3" fill="#222" text-anchor="middle">
 <text x="1180.5" y="448.2">activated cDC2s</text>
 <text x="1329.7" y="448.2">DC3s</text>
 <text x="1485" y="448.2">mregDCs</text>
</g>
<g stroke="#111" stroke-width="1.8" fill="none">
 <line x1="1110.4" y1="976" x2="1249.8" y2="976"/>
 <line x1="1260.4" y1="976" x2="1399" y2="976"/>
 <line x1="1409.4" y1="976" x2="1548.5" y2="976"/>
</g>
<g stroke="#111" stroke-width="1.5">
 <line x1="1137.2" y1="976" x2="1137.2" y2="981.5"/><line x1="1180.5" y1="976" x2="1180.5" y2="981.5"/><line x1="1223.9" y1="976" x2="1223.9" y2="981.5"/>
 <line x1="1286.5" y1="976" x2="1286.5" y2="981.5"/><line x1="1329.7" y1="976" x2="1329.7" y2="981.5"/><line x1="1373" y1="976" x2="1373" y2="981.5"/>
 <line x1="1435.3" y1="976" x2="1435.3" y2="981.5"/><line x1="1478.6" y1="976" x2="1478.6" y2="981.5"/><line x1="1521.9" y1="976" x2="1521.9" y2="981.5"/>
</g>
<g font-size="18.3" fill="#111" text-anchor="end">
 <text transform="translate(1143.7,990) rotate(-90)">Fibroblast</text>
 <text transform="translate(1187,990) rotate(-90)">Modulated SMC</text>
 <text transform="translate(1230.4,990) rotate(-90)">SMC</text>
 <text transform="translate(1293,990) rotate(-90)">Fibroblast</text>
 <text transform="translate(1336.2,990) rotate(-90)">Modulated SMC</text>
 <text transform="translate(1379.5,990) rotate(-90)">SMC</text>
 <text transform="translate(1441.8,990) rotate(-90)">Fibroblast</text>
 <text transform="translate(1485.1,990) rotate(-90)">Modulated SMC</text>
 <text transform="translate(1528.4,990) rotate(-90)">SMC</text>
</g>
<!-- D dots -->
<g>
<circle cx="1137.2" cy="477.5" r="6" fill="#f0a030"/><circle cx="1180.5" cy="477.5" r="6" fill="#c08a70"/><circle cx="1223.9" cy="477.5" r="6" fill="#2a6cbc"/>
<circle cx="1286.5" cy="477.5" r="6" fill="#d45a28"/><circle cx="1329.7" cy="477.5" r="6" fill="#e87a25"/><circle cx="1373" cy="477.5" r="6" fill="#eca040"/>
<circle cx="1137.2" cy="509.4" r="6" fill="#c08a70"/><circle cx="1180.5" cy="509.4" r="6" fill="#d09060"/><circle cx="1223.9" cy="509.4" r="6" fill="#7e7a9e"/>
<circle cx="1286.5" cy="509.4" r="6" fill="#e06a28"/><circle cx="1329.7" cy="509.4" r="6" fill="#e06a28"/><circle cx="1373" cy="509.4" r="6" fill="#f8a010"/>
<circle cx="1435.3" cy="509.4" r="6" fill="#857898"/><circle cx="1478.6" cy="509.4" r="6" fill="#9a8090"/><circle cx="1521.9" cy="509.4" r="6" fill="#2a6cbc"/>
<circle cx="1137.2" cy="541.4" r="6" fill="#ec8a22"/><circle cx="1180.5" cy="541.4" r="6" fill="#f59a18"/><circle cx="1223.9" cy="541.4" r="6" fill="#f59a18"/>
<circle cx="1286.5" cy="541.4" r="6" fill="#e87a25"/><circle cx="1329.7" cy="541.4" r="6" fill="#ec8a22"/><circle cx="1373" cy="541.4" r="6" fill="#ec8a22"/>
<circle cx="1435.3" cy="541.4" r="6" fill="#f0901a"/><circle cx="1478.6" cy="541.4" r="6" fill="#f8a010"/><circle cx="1521.9" cy="541.4" r="6" fill="#f8a010"/>
<circle cx="1137.2" cy="573.3" r="6" fill="#e06a28"/><circle cx="1286.5" cy="573.3" r="6" fill="#cc4a28"/>
<circle cx="1137.2" cy="605.3" r="6" fill="#e06a28"/><circle cx="1286.5" cy="605.3" r="6" fill="#c8402a"/>
<circle cx="1137.2" cy="637.2" r="6" fill="#e06a28"/><circle cx="1180.5" cy="637.2" r="6" fill="#e87a25"/><circle cx="1223.9" cy="637.2" r="6" fill="#fba616"/>
<circle cx="1286.5" cy="637.2" r="6" fill="#d04a28"/><circle cx="1329.7" cy="637.2" r="6" fill="#d45a28"/><circle cx="1373" cy="637.2" r="6" fill="#ec8a22"/>
<circle cx="1478.6" cy="637.2" r="6" fill="#b88a78"/>
<circle cx="1137.2" cy="669.1" r="6" fill="#e06a28"/><circle cx="1180.5" cy="669.1" r="6" fill="#e06a28"/><circle cx="1223.9" cy="669.1" r="6" fill="#e87a25"/>
<circle cx="1286.5" cy="669.1" r="6" fill="#cc4a28"/><circle cx="1329.7" cy="669.1" r="6" fill="#cc4a28"/><circle cx="1373" cy="669.1" r="6" fill="#d45028"/>
<circle cx="1180.5" cy="701.1" r="6" fill="#d45a28"/><circle cx="1329.7" cy="701.1" r="6" fill="#c03a2a"/><circle cx="1478.6" cy="701.1" r="6" fill="#e06a28"/>
<circle cx="1137.2" cy="733" r="6" fill="#e87a25"/><circle cx="1180.5" cy="733" r="6" fill="#e06a28"/><circle cx="1223.9" cy="733" r="6" fill="#fba616"/>
<circle cx="1286.5" cy="733" r="6" fill="#e06a28"/><circle cx="1329.7" cy="733" r="6" fill="#d45a28"/><circle cx="1373" cy="733" r="6" fill="#ec8a22"/>
<circle cx="1435.3" cy="733" r="6" fill="#3a68b8"/><circle cx="1478.6" cy="733" r="6" fill="#7872a0"/><circle cx="1521.9" cy="733" r="6" fill="#5a80c0"/>
<circle cx="1137.2" cy="765" r="6" fill="#2e62b4"/><circle cx="1180.5" cy="765" r="6" fill="#3a70c0"/><circle cx="1223.9" cy="765" r="6" fill="#6b8cc4"/>
<circle cx="1286.5" cy="765" r="6" fill="#d85a28"/><circle cx="1329.7" cy="765" r="6" fill="#e87a25"/><circle cx="1373" cy="765" r="6" fill="#f0901a"/>
<circle cx="1435.3" cy="765" r="6" fill="#6b8cc4"/>
<circle cx="1286.5" cy="796.9" r="6" fill="#d45a28"/><circle cx="1329.7" cy="796.9" r="6" fill="#d45a28"/><circle cx="1373" cy="796.9" r="6" fill="#e06a28"/>
<circle cx="1137.2" cy="828.8" r="6" fill="#f4a43a"/><circle cx="1180.5" cy="828.8" r="6" fill="#d45a28"/><circle cx="1223.9" cy="828.8" r="6" fill="#9a8090"/>
<circle cx="1286.5" cy="828.8" r="6" fill="#f0901a"/><circle cx="1329.7" cy="828.8" r="6" fill="#c0302a"/><circle cx="1373" cy="828.8" r="6" fill="#dc9a58"/>
<circle cx="1435.3" cy="828.8" r="6" fill="#a08088"/><circle cx="1478.6" cy="828.8" r="6" fill="#f8a010"/><circle cx="1521.9" cy="828.8" r="6" fill="#3a70c0"/>
<circle cx="1137.2" cy="860.8" r="6" fill="#c0c0c4"/><circle cx="1180.5" cy="860.8" r="6" fill="#d89a60"/><circle cx="1223.9" cy="860.8" r="6" fill="#5a80c0"/>
<circle cx="1286.5" cy="860.8" r="6" fill="#0a68c0"/><circle cx="1329.7" cy="860.8" r="6" fill="#d45a28"/><circle cx="1373" cy="860.8" r="6" fill="#e09a58"/>
<circle cx="1137.2" cy="892.7" r="6" fill="#907890"/><circle cx="1180.5" cy="892.7" r="6" fill="#e87a25"/><circle cx="1223.9" cy="892.7" r="6" fill="#5a6aaa"/>
<circle cx="1286.5" cy="892.7" r="6" fill="#847a9a"/><circle cx="1329.7" cy="892.7" r="6" fill="#ec8a22"/><circle cx="1373" cy="892.7" r="6" fill="#2a6cbc"/>
<circle cx="1435.3" cy="892.7" r="6" fill="#f4a43a"/><circle cx="1478.6" cy="892.7" r="6" fill="#c03030"/><circle cx="1521.9" cy="892.7" r="6" fill="#d89458"/>
<circle cx="1180.5" cy="924.7" r="6" fill="#e87a25"/><circle cx="1329.7" cy="924.7" r="6" fill="#ec8a22"/><circle cx="1478.6" cy="924.7" r="6" fill="#c03030"/>
<circle cx="1137.2" cy="956.6" r="6" fill="#a88080"/><circle cx="1180.5" cy="956.6" r="6" fill="#e87a25"/><circle cx="1223.9" cy="956.6" r="6" fill="#ec8a22"/>
<circle cx="1286.5" cy="956.6" r="6" fill="#907890"/><circle cx="1329.7" cy="956.6" r="6" fill="#ec8a22"/><circle cx="1373" cy="956.6" r="6" fill="#ec8a22"/>
<circle cx="1435.3" cy="956.6" r="6" fill="#fba616"/><circle cx="1478.6" cy="956.6" r="6" fill="#c03030"/><circle cx="1521.9" cy="956.6" r="6" fill="#c8402a"/>
</g>
</g>
<g stroke="#111" stroke-width="1.8" fill="none">
 <line x1="1111.2" y1="459" x2="1111.2" y2="976.9"/>
</g>
<g stroke="#111" stroke-width="1.5">
 <line x1="1105.5" y1="477.5" x2="1111.2" y2="477.5"/><line x1="1105.5" y1="509.4" x2="1111.2" y2="509.4"/>
 <line x1="1105.5" y1="541.4" x2="1111.2" y2="541.4"/><line x1="1105.5" y1="573.3" x2="1111.2" y2="573.3"/>
 <line x1="1105.5" y1="605.3" x2="1111.2" y2="605.3"/><line x1="1105.5" y1="637.2" x2="1111.2" y2="637.2"/>
 <line x1="1105.5" y1="669.1" x2="1111.2" y2="669.1"/><line x1="1105.5" y1="701.1" x2="1111.2" y2="701.1"/>
 <line x1="1105.5" y1="733" x2="1111.2" y2="733"/><line x1="1105.5" y1="765" x2="1111.2" y2="765"/>
 <line x1="1105.5" y1="796.9" x2="1111.2" y2="796.9"/><line x1="1105.5" y1="828.8" x2="1111.2" y2="828.8"/>
 <line x1="1105.5" y1="860.8" x2="1111.2" y2="860.8"/><line x1="1105.5" y1="892.7" x2="1111.2" y2="892.7"/>
 <line x1="1105.5" y1="924.7" x2="1111.2" y2="924.7"/><line x1="1105.5" y1="956.6" x2="1111.2" y2="956.6"/>
</g>
<g font-size="18.3" fill="#1a1a1a" text-anchor="end">
 <text x="1097" y="484">CSF1_CSF1R</text>
 <text x="1097" y="515.9">OSM_OSMR</text>
 <text x="1097" y="547.9">WNT11_FZD8_LRP6</text>
 <text x="1097" y="579.8">FTH1_SCARA5</text>
 <text x="1097" y="611.8">CLCF1_CNTF_1R</text>
 <text x="1097" y="643.7">TGFB1_TGFbeta_receptor2</text>
 <text x="1097" y="675.6">TGFB1_TGFbeta_receptor1</text>
 <text x="1097" y="707.6">TSLP_TSLPR</text>
 <text x="1097" y="739.5">CD248_IL6R</text>
 <text x="1097" y="771.5">TNF_TNFRSF1A</text>
 <text x="1097" y="803.4">TNFSF14_LTBR</text>
 <text x="1097" y="835.3">CXCL12_CXCR4</text>
 <text x="1097" y="867.3">CX3CL1_CX3CR1</text>
 <text x="1097" y="899.2">VCAM1_integrin_a4b1_complex</text>
 <text x="1097" y="931.2">SPP1_integrin_a4b1_complex</text>
 <text x="1097" y="963.1">FN1_integrin_a4b1_complex</text>
</g>
<g stroke="#111" stroke-width="2.1">
 <line x1="819.5" y1="503" x2="819.5" y2="676.2"/>
 <line x1="819.5" y1="699.4" x2="819.5" y2="804.7"/>
 <line x1="819.5" y1="827.9" x2="819.5" y2="963.6"/>
</g>
<g font-size="18" fill="#111" text-anchor="middle">
 <text transform="translate(809,592.3) rotate(-90)">tissue remodeling</text>
 <text transform="translate(809,753.8) rotate(-90)">inflammation</text>
 <text transform="translate(809,901.1) rotate(-90)">migration</text>
</g>
<!-- D legend -->
<text x="1123" y="1149.5" font-size="18.3" fill="#1a1a1a">log2(Interaction score)</text>
<rect x="1122" y="1163" width="166" height="34" fill="url(#cb)"/>
<g stroke="#fff" stroke-width="1.3">
 <line x1="1150" y1="1163" x2="1150" y2="1169"/><line x1="1150" y1="1191" x2="1150" y2="1197"/>
 <line x1="1179.8" y1="1163" x2="1179.8" y2="1169"/><line x1="1179.8" y1="1191" x2="1179.8" y2="1197"/>
 <line x1="1209.6" y1="1163" x2="1209.6" y2="1169"/><line x1="1209.6" y1="1191" x2="1209.6" y2="1197"/>
 <line x1="1239.4" y1="1163" x2="1239.4" y2="1169"/><line x1="1239.4" y1="1191" x2="1239.4" y2="1197"/>
 <line x1="1269.2" y1="1163" x2="1269.2" y2="1169"/><line x1="1269.2" y1="1191" x2="1269.2" y2="1197"/>
</g>
<g font-size="18.3" fill="#1a1a1a" text-anchor="middle">
 <text x="1150" y="1216">2</text><text x="1209.6" y="1216">4</text><text x="1269.2" y="1216">6</text>
 <text x="1402" y="1211">5</text>
</g>
<text x="1356" y="1149.5" font-size="18.3" fill="#1a1a1a">−log10(P value)</text>
<circle cx="1401.5" cy="1176" r="6" fill="#000"/>

<!-- ============ PANEL E ============ -->
<text x="8.5" y="1226" font-size="18" font-weight="bold">E</text>
<g transform="translate(34.7,1235)">
 <use href="#micro"/>
 <g fill="#22ee22">
  <ellipse cx="211.6" cy="44.7" rx="4" ry="3"/>
  <ellipse cx="121.3" cy="73.8" rx="3" ry="5"/>
  <ellipse cx="130.3" cy="82" rx="3" ry="4.5"/>
  <ellipse cx="166.4" cy="103.4" rx="2" ry="3.5"/>
  <ellipse cx="176.8" cy="122" rx="2.5" ry="3.5"/>
  <ellipse cx="192.8" cy="128.8" rx="2.5" ry="4"/>
  <ellipse cx="180.3" cy="143.5" rx="3" ry="4.5"/>
  <ellipse cx="197.7" cy="151.4" rx="2.5" ry="4"/>
  <ellipse cx="211.6" cy="170.1" rx="2.5" ry="4"/>
 </g>
 <rect x="0" y="289" width="74.3" height="45" fill="#fff"/>
 <text x="34.7" y="307.4" text-anchor="middle" font-size="18" fill="#22dd22">CD11C</text>
 <text x="34.7" y="330" text-anchor="middle" font-size="18" fill="#2a70f0">DAPI</text>
</g>
<g transform="translate(389.7,1235)">
 <use href="#micro"/>
 <g fill="none" stroke="#6a1838" stroke-width="1" opacity="0.8">
  <path d="M200,55 C250,100 280,160 300,230 S320,300 333,320"/>
  <path d="M230,50 C280,90 310,150 325,200"/>
 </g>
 <g fill="#ff2a4a">
  <ellipse cx="72.2" cy="44.7" rx="3" ry="4.5"/>
  <ellipse cx="96.5" cy="52.7" rx="2.5" ry="4"/>
  <ellipse cx="66.6" cy="100.7" rx="2.5" ry="3.5"/>
  <ellipse cx="209" cy="108.7" rx="2.5" ry="6"/>
  <ellipse cx="178.5" cy="143.5" rx="2.5" ry="4"/>
  <ellipse cx="110.4" cy="151.4" rx="3" ry="3.5"/>
  <ellipse cx="107" cy="164.8" rx="4" ry="5" fill="#e8309a"/>
  <ellipse cx="179.9" cy="172.8" rx="3" ry="4" fill="#e8309a"/>
  <ellipse cx="192.4" cy="191.5" rx="3" ry="4"/>
  <ellipse cx="211" cy="231.5" rx="2.5" ry="3.5" fill="#e8309a"/>
  <ellipse cx="204" cy="239.5" rx="2" ry="3"/>
  <ellipse cx="211" cy="256.9" rx="2.5" ry="3.5"/>
  <ellipse cx="16.7" cy="5.9" rx="2.5" ry="3.5"/>
 </g>
 <rect x="0" y="289" width="74.3" height="45" fill="#fff"/>
 <text x="34.7" y="307.4" text-anchor="middle" font-size="18" fill="#ee2222">CD3e</text>
 <text x="34.7" y="330" text-anchor="middle" font-size="18" fill="#2a70f0">DAPI</text>
</g>
<g transform="translate(744.6,1235)">
 <use href="#micro"/>
 <g fill="none" stroke="#5a1838" stroke-width="1" opacity="0.7">
  <path d="M200,55 C250,100 280,160 300,230 S320,300 333,320"/>
 </g>
 <g fill="#22ee22">
  <ellipse cx="211.6" cy="44.7" rx="4" ry="3"/>
  <ellipse cx="121.3" cy="73.8" rx="3" ry="5"/>
  <ellipse cx="130.3" cy="82" rx="2.5" ry="4.5"/>
  <ellipse cx="176.8" cy="122" rx="2.5" ry="3.5"/>
  <ellipse cx="180.3" cy="143.5" rx="3" ry="4.5"/>
  <ellipse cx="197.7" cy="151.4" rx="2.5" ry="4"/>
  <ellipse cx="211.6" cy="170.1" rx="2.5" ry="4"/>
 </g>
 <g fill="#ff2a4a">
  <ellipse cx="72.2" cy="44.7" rx="2.5" ry="4"/>
  <ellipse cx="96.5" cy="52.7" rx="2" ry="3.5"/>
  <ellipse cx="209" cy="108.7" rx="2" ry="5"/>
  <ellipse cx="110.4" cy="151.4" rx="2.5" ry="3"/>
  <ellipse cx="107" cy="164.8" rx="3.5" ry="4.5" fill="#e8309a"/>
  <ellipse cx="179.9" cy="172.8" rx="2.5" ry="3.5" fill="#e8309a"/>
  <ellipse cx="192.4" cy="191.5" rx="2.5" ry="3.5"/>
 </g>
 <rect x="0" y="271" width="74.3" height="63" fill="#fff"/>
 <text x="34.7" y="291.4" text-anchor="middle" font-size="18" fill="#22dd22">CD11C</text>
 <text x="34.7" y="310.7" text-anchor="middle" font-size="18" fill="#ee2222">CD3e</text>
 <text x="34.7" y="330" text-anchor="middle" font-size="18" fill="#2a70f0">DAPI</text>
</g>
</svg>
</body></html>
